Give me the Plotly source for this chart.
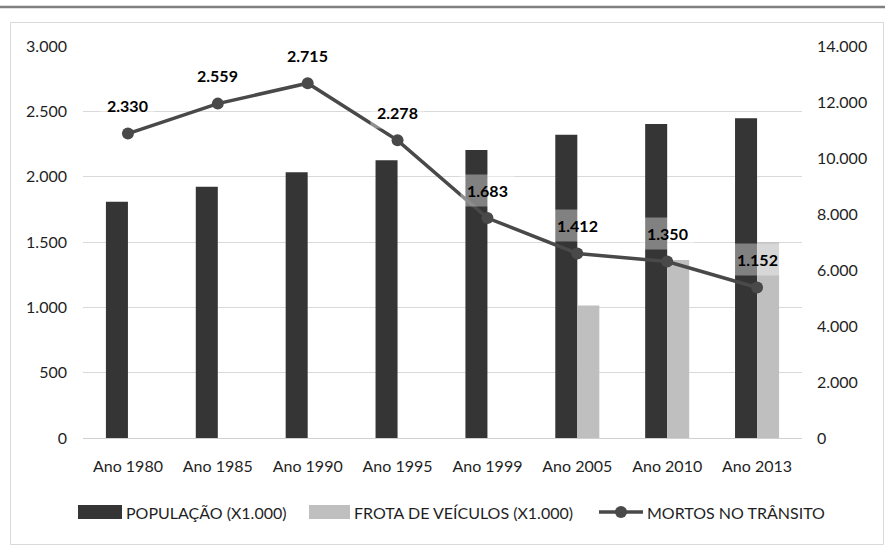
import plotly.graph_objects as go

# Categories and series
anos = ["Ano 1980", "Ano 1985", "Ano 1990", "Ano 1995", "Ano 1999", "Ano 2005", "Ano 2010", "Ano 2013"]
populacao = [8440, 8975, 9490, 9920, 10290, 10830, 11215, 11420]
frota = [None, None, None, None, None, 4730, 6360, 6990]
mortos = [2330, 2559, 2715, 2278, 1683, 1412, 1350, 1152]

nome_pop = "POPULAÇÃO (X1.000)"
nome_frota = "FROTA DE VEÍCULOS (X1.000)"
nome_mortos = "MORTOS NO TRÂNSITO"

COR_POP = "#353535"
COR_FROTA = "#bfbfbf"
COR_LINHA = "#494949"
COR_TEXTO = "#1f1f1f"
FONTE = "Lato"

W, H = 885, 551
L, R, T, B = 83, 802, 46, 438  # plot area in pixels


def fx(px):
    return (px - L) / (R - L)


def fy(py):
    return (B - py) / (B - T)


def milhar(v):
    return f"{v:,}".replace(",", ".")


fig = go.Figure()

# Bars on the right-hand axis
fig.add_trace(go.Bar(x=anos, y=populacao, name=nome_pop, marker_color=COR_POP,
                     marker_line_width=0, yaxis="y"))
fig.add_trace(go.Bar(x=anos, y=frota, name=nome_frota, marker_color=COR_FROTA,
                     marker_line_width=0, yaxis="y"))

# Deaths line on the left-hand axis (overlay, drawn above the bars)
fig.add_trace(go.Scatter(x=anos, y=mortos, name=nome_mortos, mode="lines+markers",
                         line=dict(color=COR_LINHA, width=3.5),
                         marker=dict(color=COR_LINHA, size=12), yaxis="y2"))

annotations = []
for a, v in zip(anos, mortos):
    annotations.append(dict(x=a, y=v, xref="x", yref="y2", text=f"<b>{milhar(v)}</b>",
                            showarrow=False, yshift=28,
                            font=dict(family=FONTE, size=16, color="#000000"),
                            bgcolor="rgba(255,255,255,0.38)", borderpad=6))

shapes = [
    # top rule
    dict(type="line", xref="paper", yref="paper", x0=fx(0), x1=fx(W), y0=fy(7), y1=fy(7),
         line=dict(color="#808080", width=2.5)),
    # chart frame
    dict(type="rect", xref="paper", yref="paper", x0=fx(10.5), x1=fx(883.5), y0=fy(22.5), y1=fy(544.5),
         line=dict(color="#d9d9d9", width=1), layer="below"),
]

# Custom legend
ly = 512
legenda = [
    ("rect", COR_POP, 78, 122, nome_pop, 124),
    ("rect", COR_FROTA, 309, 350, nome_frota, 352),
    ("line", COR_LINHA, 599, 643, nome_mortos, 645),
]
for kind, cor, x0, x1, nome, xt in legenda:
    if kind == "rect":
        shapes.append(dict(type="rect", xref="paper", yref="paper", x0=fx(x0), x1=fx(x1),
                           y0=fy(ly + 7), y1=fy(ly - 7), fillcolor=cor, line_width=0))
    else:
        shapes.append(dict(type="line", xref="paper", yref="paper", x0=fx(x0), x1=fx(x1),
                           y0=fy(ly), y1=fy(ly), line=dict(color=cor, width=3.5)))
        xc = (x0 + x1) / 2
        shapes.append(dict(type="circle", xref="paper", yref="paper", x0=fx(xc - 6), x1=fx(xc + 6),
                           y0=fy(ly + 6), y1=fy(ly - 6), fillcolor=cor, line_width=0))
    annotations.append(dict(x=fx(xt), y=fy(ly), xref="paper", yref="paper", text=nome,
                            showarrow=False, xanchor="left", yanchor="middle",
                            font=dict(family=FONTE, size=16, color=COR_TEXTO)))

fig.update_layout(
    width=W, height=H,
    margin=dict(l=L, r=W - R, t=T, b=H - B, pad=0),
    paper_bgcolor="white", plot_bgcolor="white",
    separators=",.",
    barmode="group", bargap=0.51, bargroupgap=0,
    showlegend=False,
    font=dict(family=FONTE, size=16, color=COR_TEXTO),
    xaxis=dict(showgrid=False, showline=True, linecolor="#d0d0d0", linewidth=1,
               ticks="", ticklabelstandoff=14, tickfont=dict(size=16)),
    yaxis=dict(side="right", range=[0, 14000], dtick=2000, tickformat=",d",
               showgrid=False, zeroline=False, ticklabelstandoff=14),
    yaxis2=dict(side="left", overlaying="y", range=[0, 3000], dtick=500, tickformat=",d",
                showgrid=True, gridcolor="#d9d9d9", gridwidth=1, zeroline=False,
                ticklabelstandoff=15),
    annotations=annotations,
    shapes=shapes,
)

fig.write_html("out.html")
